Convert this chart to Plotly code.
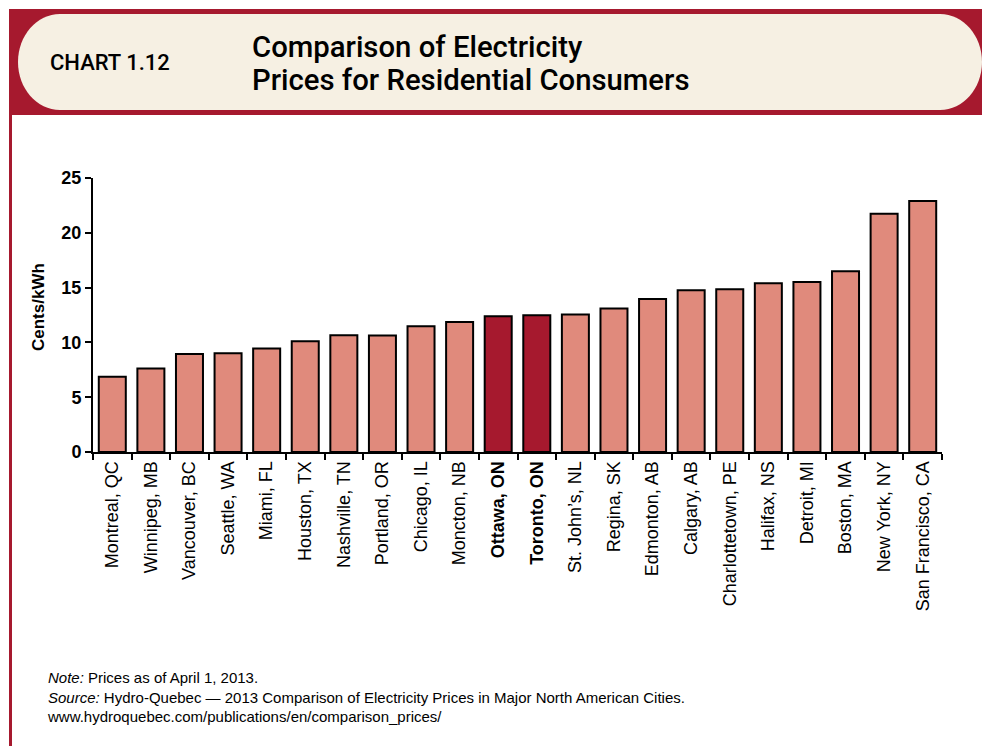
import plotly.graph_objects as go

cities = ["Montreal, QC", "Winnipeg, MB", "Vancouver, BC", "Seattle, WA", "Miami, FL",
          "Houston, TX", "Nashville, TN", "Portland, OR", "Chicago, IL", "Moncton, NB",
          "Ottawa, ON", "Toronto, ON", "St. John’s, NL", "Regina, SK", "Edmonton, AB",
          "Calgary, AB", "Charlottetown, PE", "Halifax, NS", "Detroit, MI", "Boston, MA",
          "New York, NY", "San Francisco, CA"]
prices = [6.87, 7.63, 8.94, 9.0, 9.45, 10.1, 10.66, 10.64, 11.48, 11.85,
          12.39, 12.48, 12.54, 13.1, 13.95, 14.76, 14.85, 15.4, 15.5, 16.5,
          21.73, 22.9]
highlight = ["Ottawa, ON", "Toronto, ON"]
y_ticks = [0, 5, 10, 15, 20, 25]

RED = "#a6192e"
SALMON = "#e08a7c"
CREAM = "#f6f0e3"
HEAD = "Roboto, Liberation Sans, Arial, sans-serif"
SANS = "Liberation Sans, Arial, sans-serif"

W, H = 982, 746
L, R, T, B = 93, 942, 178, 452


def px(x):
    return (x - L) / (R - L)


def py(y):
    return (B - y) / (B - T)


colors = [RED if c in highlight else SALMON for c in cities]
ticktext = [f"<b>{c}</b>" if c in highlight else c for c in cities]

fig = go.Figure()
fig.add_trace(go.Bar(
    x=cities, y=prices,
    marker=dict(color=colors, line=dict(color="black", width=2)),
    hoverinfo="x+y",
))

# header shapes
shapes = []
shapes.append(dict(type="rect", xref="paper", yref="paper", layer="below",
                   x0=px(9), x1=px(982), y0=py(115), y1=py(9),
                   fillcolor=RED, line=dict(width=0)))
shapes.append(dict(type="rect", xref="paper", yref="paper", layer="below",
                   x0=px(9), x1=px(12), y0=py(746), y1=py(115),
                   fillcolor=RED, line=dict(width=0)))

# pill
lx, rx_, top, bot = 18, 982, 14, 110
rx = 42
ry = (bot - top) / 2
cy = (top + bot) / 2
k = 0.5523


def P(x, y):
    return f"{px(x):.5f},{py(y):.5f}"


path = (
    f"M {P(lx + rx, top)} L {P(rx_ - rx, top)} "
    f"C {P(rx_ - rx + k * rx, top)} {P(rx_, cy - k * ry)} {P(rx_, cy)} "
    f"C {P(rx_, cy + k * ry)} {P(rx_ - rx + k * rx, bot)} {P(rx_ - rx, bot)} "
    f"L {P(lx + rx, bot)} "
    f"C {P(lx + rx - k * rx, bot)} {P(lx, cy + k * ry)} {P(lx, cy)} "
    f"C {P(lx, cy - k * ry)} {P(lx + rx - k * rx, top)} {P(lx + rx, top)} Z"
)
shapes.append(dict(type="path", xref="paper", yref="paper", layer="below",
                   path=path, fillcolor=CREAM, line=dict(width=0)))

annotations = [
    dict(text="CHART 1.12", x=px(48), y=py(62), xref="paper", yref="paper",
         xanchor="left", yanchor="middle", showarrow=False,
         font=dict(family=HEAD, size=22, color="black", weight=500)),
    dict(text="Comparison of Electricity",
         x=px(250), y=py(47), xref="paper", yref="paper",
         xanchor="left", yanchor="middle", align="left", showarrow=False,
         font=dict(family=HEAD, size=29.3, color="black", weight=500)),
    dict(text="Prices for Residential Consumers",
         x=px(250), y=py(80), xref="paper", yref="paper",
         xanchor="left", yanchor="middle", align="left", showarrow=False,
         font=dict(family=HEAD, size=29.3, color="black", weight=500)),
    dict(text="<b>Cents/kWh</b>", x=px(38), y=py(307), xref="paper", yref="paper",
         xanchor="center", yanchor="middle", textangle=-90, showarrow=False,
         font=dict(family=SANS, size=17, color="black")),
    dict(text="<i>Note:</i> Prices as of April 1, 2013.<br>"
              "<i>Source:</i> Hydro-Quebec — 2013 Comparison of Electricity Prices in Major North American Cities.<br>"
              "www.hydroquebec.com/publications/en/comparison_prices/",
         x=px(45), y=py(697), xref="paper", yref="paper",
         xanchor="left", yanchor="middle", align="left", showarrow=False,
         font=dict(family=SANS, size=15, color="black")),
]

fig.update_layout(
    width=W, height=H,
    margin=dict(l=L, r=W - R, t=T, b=H - B, pad=0),
    paper_bgcolor="white", plot_bgcolor="white",
    showlegend=False,
    bargap=0.3,
    shapes=shapes,
    annotations=annotations,
    xaxis=dict(
        type="category", range=[-0.5, len(cities) - 0.5],
        tickmode="array", tickvals=cities, ticktext=ticktext,
        tickangle=-90, tickson="boundaries",
        ticks="outside", ticklen=6, tickwidth=2, tickcolor="black",
        showline=True, linecolor="black", linewidth=2,
        showgrid=False, zeroline=False,
        tickfont=dict(family=SANS, size=18, color="black"),
    ),
    yaxis=dict(
        range=[0, 25], tickvals=y_ticks,
        ticktext=[f"<b>{v}</b>" for v in y_ticks],
        ticks="outside", ticklen=6, tickwidth=2, tickcolor="black",
        showline=True, linecolor="black", linewidth=2,
        showgrid=False, zeroline=False,
        tickfont=dict(family=SANS, size=18, color="black"),
    ),
)

fig.write_html("out.html")
